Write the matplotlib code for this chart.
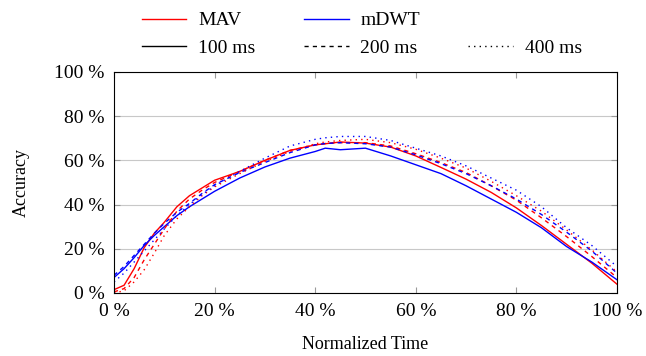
import matplotlib.pyplot as plt
from matplotlib.lines import Line2D
from matplotlib.ticker import FuncFormatter

plt.rcParams['font.family'] = ['Liberation Serif', 'DejaVu Serif']

# normalized time (%)
t = [0, 2, 4, 6, 8, 10, 12.5, 15, 17.5, 20, 25, 30, 35, 40, 42, 45, 50, 55, 60,
     65, 70, 75, 80, 85, 90, 95, 100]

# accuracy (%) per feature / window length
mav_100 = [1.5, 3.5, 11, 20.5, 27, 32, 39, 44, 47.5, 51, 55, 60, 64.5, 67, 67.5, 68.3,
           67.8, 66, 62, 56.8, 51.5, 45.5, 38.5, 30.5, 22, 13.5, 4]
mdwt_100 = [7, 11, 16, 21.5, 26, 30, 35, 39, 42.5, 46, 52, 57, 61, 64, 65.5, 64.8,
            65.5, 62, 58, 54, 48.5, 42.5, 36.5, 29.5, 21, 14, 6]
mav_200 = [0.5, 2, 7, 15, 22, 29, 37, 42.5, 46.5, 50, 55, 60, 64.5, 67, 67.6, 68,
           68, 66.5, 63, 59, 54.5, 48.5, 42, 34, 25.5, 16.5, 7]
mdwt_200 = [8, 12, 17, 22, 27, 31.5, 36.5, 40.5, 45, 49, 54.5, 59, 63.5, 67, 67.6, 68,
            67.5, 66, 62.5, 58.5, 54, 48.5, 42.5, 35.5, 27.5, 19, 9]
mav_400 = [0, 1, 5, 10.5, 18, 26, 33.5, 39, 44, 48, 54, 59.5, 64, 67.5, 68.3, 69,
           69.5, 68, 65, 61, 56.5, 50.5, 44, 37, 28.5, 19.5, 9.5]
mdwt_400 = [5, 9, 14, 19, 24, 29, 35, 40, 44.5, 48.5, 55, 61, 66.5, 69.5, 70.2, 70.8,
            70.8, 69, 65.5, 62, 57.5, 52, 46.5, 39, 29.5, 21.5, 12]

fig = plt.figure(figsize=(6.46, 3.56), dpi=100)
ax = fig.add_axes([0.1765, 0.177, 0.7785, 0.621])

ax.plot(t, mav_100, '-', color='red', lw=1)
ax.plot(t, mdwt_100, '-', color='blue', lw=1)
ax.plot(t, mav_200, '--', color='red', lw=1, dashes=(3, 3))
ax.plot(t, mdwt_200, '--', color='blue', lw=1, dashes=(3, 3))
ax.plot(t, mav_400, ':', color='red', lw=1, dashes=(1, 3))
ax.plot(t, mdwt_400, ':', color='blue', lw=1, dashes=(1, 3))

ax.set_xlim(0, 100)
ax.set_ylim(0, 100)
ax.set_xticks([0, 20, 40, 60, 80, 100])
ax.set_yticks([0, 20, 40, 60, 80, 100])
pct = FuncFormatter(lambda v, p: '%d %%' % v)
ax.xaxis.set_major_formatter(pct)
ax.yaxis.set_major_formatter(pct)
ax.tick_params(direction='in', top=True, right=True, length=4, color='#999999',
               labelsize=14, labelcolor='black')
ax.tick_params(axis='x', pad=7)
ax.tick_params(axis='y', pad=7)
ax.yaxis.grid(True, color='#c8c8c8', lw=0.8)
ax.set_axisbelow(True)
for s in ax.spines.values():
    s.set_linewidth(0.8)
ax.set_xlabel('Normalized Time', fontsize=13, labelpad=12)
ax.set_ylabel('Accuracy', fontsize=13, labelpad=17)

handles = [Line2D([], [], color='red', lw=1),
           Line2D([], [], color='black', lw=1),
           Line2D([], [], color='blue', lw=1),
           Line2D([], [], color='black', lw=1, ls='--', dashes=(3, 3)),
           Line2D([], [], color='none'),
           Line2D([], [], color='black', lw=1, ls=':', dashes=(1, 3))]
labels = ['MAV', '100 ms', 'mDWT', '200 ms', '', '400 ms']
fig.legend(handles, labels, ncol=3, loc='upper left', bbox_to_anchor=(0.192, 1.016),
           frameon=False, fontsize=14, handlelength=2.3, columnspacing=2.5,
           labelspacing=0.5, handletextpad=0.6)

fig.savefig('out.png', dpi=100)
